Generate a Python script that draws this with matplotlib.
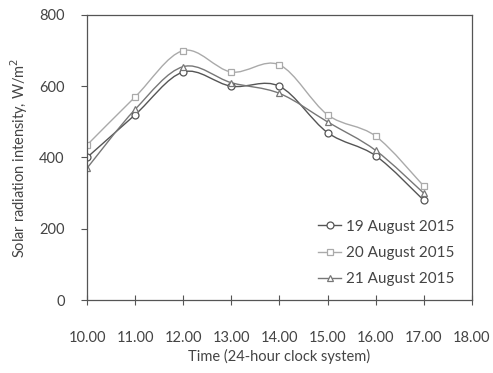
import numpy as np
import matplotlib
matplotlib.use('Agg')
import matplotlib.pyplot as plt
from matplotlib.path import Path
from matplotlib.patches import PathPatch
from matplotlib.lines import Line2D

hours = [10, 11, 12, 13, 14, 15, 16, 17]
aug19 = [400, 520, 640, 600, 600, 470, 405, 280]
aug20 = [435, 570, 700, 640, 660, 520, 460, 320]
aug21 = [370, 535, 655, 610, 580, 500, 420, 300]
labels = ['19 August 2015', '20 August 2015', '21 August 2015']
xticks = [10, 11, 12, 13, 14, 15, 16, 17, 18]


def smooth_path(x, y, t=0.5):
    # Catmull-Rom style bezier through the points (like a spreadsheet smoothed line)
    x = np.asarray(x, float)
    y = np.asarray(y, float)
    verts = [(x[0], y[0])]
    codes = [Path.MOVETO]
    n = len(x)
    for i in range(n - 1):
        x0, y0 = (x[i - 1], y[i - 1]) if i > 0 else (x[i], y[i])
        x3, y3 = (x[i + 2], y[i + 2]) if i + 2 < n else (x[i + 1], y[i + 1])
        c1 = (x[i] + (x[i + 1] - x0) * t / 3, y[i] + (y[i + 1] - y0) * t / 3)
        c2 = (x[i + 1] - (x3 - x[i]) * t / 3, y[i + 1] - (y3 - y[i]) * t / 3)
        verts += [c1, c2, (x[i + 1], y[i + 1])]
        codes += [Path.CURVE4] * 3
    return Path(verts, codes)


def main():
    plt.rcParams['font.family'] = ['Lato', 'DejaVu Sans']
    text_color = '#444444'

    fig = plt.figure(figsize=(4.93, 3.73), dpi=100)
    ax = fig.add_axes([0.1765, 0.1957, 0.7805, 0.7641])

    series = [(aug19, 'o', '#555555'), (aug20, 's', '#aaaaaa'), (aug21, '^', '#777777')]
    handles = []
    for (vals, mk, col), lab in zip(series, labels):
        ax.add_patch(PathPatch(smooth_path(hours, vals), facecolor='none',
                               edgecolor=col, linewidth=1.0))
        ax.plot(hours, vals, linestyle='none', marker=mk, markersize=5,
                markerfacecolor='white', markeredgecolor=col, markeredgewidth=0.9)
        handles.append(Line2D([], [], color=col, linewidth=1.0, marker=mk, markersize=5,
                              markerfacecolor='white', markeredgecolor=col,
                              markeredgewidth=0.9))

    ax.set_xlim(10, 18)
    ax.set_ylim(0, 800)
    ax.set_xticks(xticks)
    ax.set_xticklabels(['%.2f' % h for h in xticks])
    ax.set_yticks([0, 200, 400, 600, 800])

    for s in ax.spines.values():
        s.set_color('#555555')
        s.set_linewidth(0.9)
    ax.tick_params(axis='x', direction='inout', length=7, pad=19, labelsize=10.5,
                   colors='#555555', labelcolor=text_color)
    ax.tick_params(axis='y', direction='out', length=4, pad=12, labelsize=10.5,
                   colors='#555555', labelcolor=text_color)

    ax.set_xlabel('Time (24-hour clock system)', fontsize=10.5, color=text_color, labelpad=3)
    ax.set_ylabel('Solar radiation intensity, W/m$^2$', fontsize=10.5, color=text_color,
                  labelpad=7)

    ax.legend(handles, labels, loc='lower right', frameon=False, fontsize=11,
              handlelength=1.5, handletextpad=0.3, labelspacing=0.8,
              bbox_to_anchor=(0.99, 0.0), labelcolor=text_color)

    fig.savefig('out.png', dpi=100)


if __name__ == '__main__':
    main()
